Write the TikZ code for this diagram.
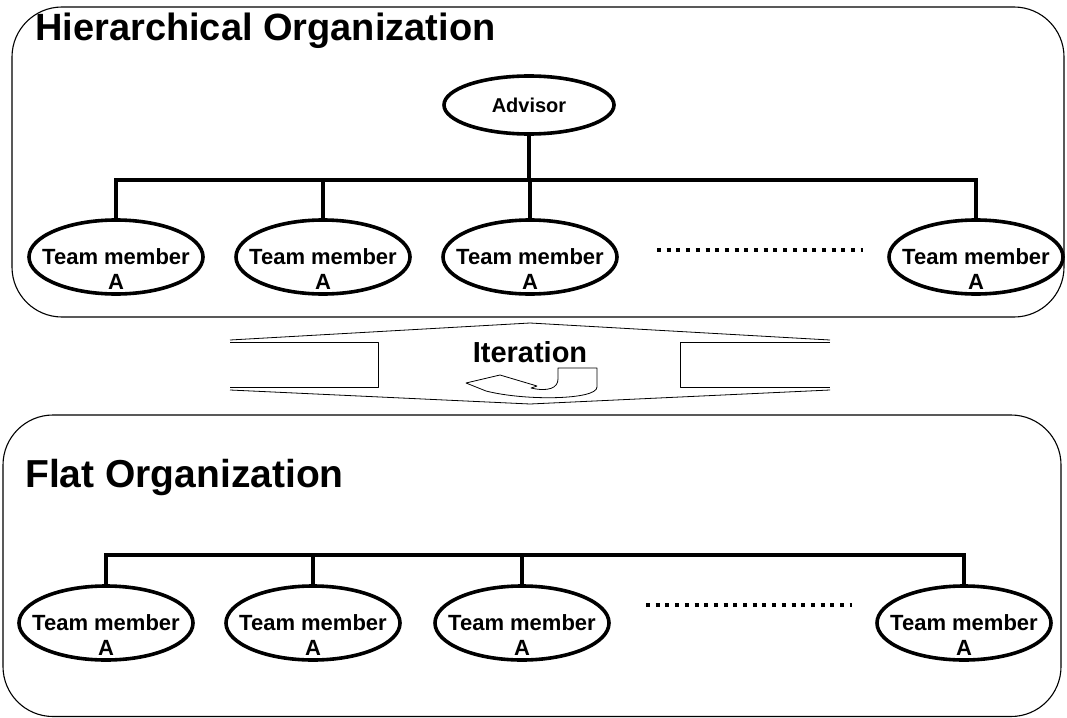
\documentclass[tikz,border=0pt]{standalone}
\usepackage{fontspec}
\setmainfont{Liberation Sans}
\usetikzlibrary{shapes.geometric}
\begin{document}
\begin{tikzpicture}[x=1pt,y=-1pt,
  frame/.style={draw, line width=1.1pt, rounded corners=50pt},
  member/.style={ellipse, draw, line width=3.6pt, minimum width=174pt, minimum height=74pt, inner sep=0pt},
  memtext/.style={align=center, font=\bfseries\fontsize{22}{25}\selectfont, inner sep=0pt},
  link/.style={line width=3.8pt, line join=miter},
  dots/.style={line width=4pt, dash pattern=on 4pt off 5.7pt},
  title/.style={anchor=base west, inner sep=0pt, font=\bfseries\fontsize{38}{44}\selectfont},
  thin/.style={line width=0.8pt, line join=round}]
\useasboundingbox (0,0) rectangle (1067,717);

% frames
\draw[frame] (12,7) rectangle (1064,317);
\draw[frame] (3,415) rectangle (1061,716.5);

% titles
\node[title] (t1) at (35,41) {Hierarchical Organization};
\node[title, font=\bfseries\fontsize{39}{44}\selectfont] (t2) at (25,487) {Flat Organization};

% ---------- hierarchical ----------
\node[member, minimum width=170pt, minimum height=58pt] (adv) at (529,105) {};
\node[memtext, font=\bfseries\fontsize{20}{24}\selectfont] (advt) at (adv) {Advisor};

\node[member] (a1) at (116,257) {};
\node[member] (a2) at (323,257) {};
\node[member] (a3) at (530,257) {};
\node[member] (a5) at (976,257) {};
\foreach \n in {a1,a2,a3,a5}
  \node[memtext, yshift=-12pt] (\n t) at (\n) {Team member\\A};

\coordinate (hbar) at (0,180);
\draw[link] (a1.north) -- (a1.north |- hbar) -- (a5.north |- hbar) -- (a5.north);
\draw[link] (adv.south) -- (adv.south |- hbar);
\draw[link] (a2.north |- hbar) -- (a2.north);
\draw[link] (a3.north |- hbar) -- (a3.north);

\coordinate (d1a) at (657,250);
\coordinate (d1b) at (863,250);
\draw[dots] (d1a) -- (d1b);

% ---------- iteration ----------
\draw[thin] (230,340) -- (530,323) -- (830,340);
\draw[thin] (230,390) -- (530,404) -- (830,390);
\draw[thin] (230,342) -- (378,342) -- (378,387) -- (230,387);
\draw[thin] (830,342) -- (680,342) -- (680,387) -- (830,387);
\node[anchor=base, inner sep=0pt, font=\bfseries\fontsize{29}{34}\selectfont] (it) at (530,362) {Iteration};
\draw[thin] (466,383) -- (500,375) -- (537,386) -- (531,388)
  .. controls (548,392) and (558,388) .. (558,379) -- (558,368) -- (597,368) -- (597,387)
  .. controls (597,400) and (525,401) .. (486,391) -- cycle;

% ---------- flat ----------
\node[member] (b1) at (106,623) {};
\node[member] (b2) at (313,623) {};
\node[member] (b3) at (522,623) {};
\node[member] (b5) at (964,623) {};
\foreach \n in {b1,b2,b3,b5}
  \node[memtext, yshift=-12pt] (\n t) at (\n) {Team member\\A};

\coordinate (fbar) at (0,555);
\draw[link] (b1.north) -- (b1.north |- fbar) -- (b5.north |- fbar) -- (b5.north);
\draw[link] (b2.north |- fbar) -- (b2.north);
\draw[link] (b3.north |- fbar) -- (b3.north);

\coordinate (d2a) at (646,605);
\coordinate (d2b) at (852,605);
\draw[dots] (d2a) -- (d2b);
\end{tikzpicture}
\end{document}
